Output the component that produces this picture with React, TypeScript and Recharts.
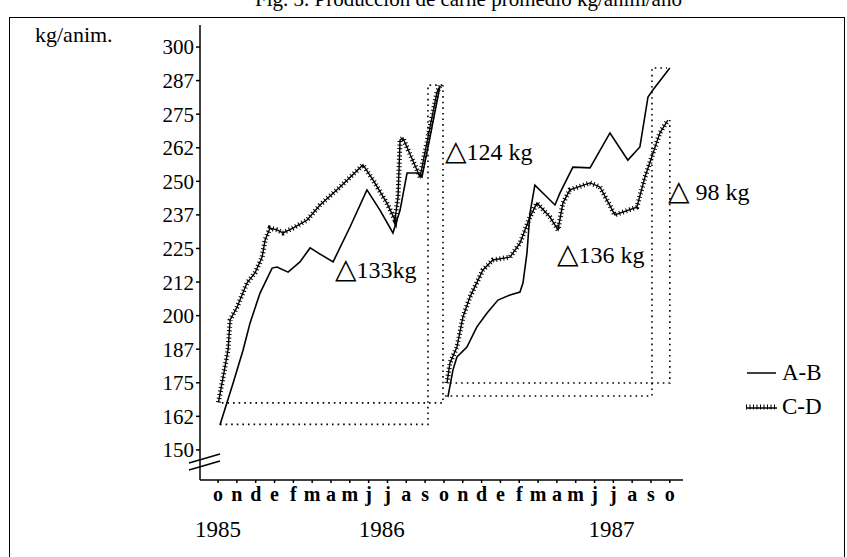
import { Customized, Legend, Line, LineChart, ReferenceDot, XAxis, YAxis } from 'recharts';

const monthLabels = ['o', 'n', 'd', 'e', 'f', 'm', 'a', 'm', 'j', 'j', 'a', 's', 'o', 'n', 'd', 'e', 'f', 'm', 'a', 'm', 'j', 'j', 'a', 's', 'o'];
const monthTicks = monthLabels.map((_, i) => i);
const yearLabels = ['1985', '1986', '1987'];
const yearTicks = [0, 8.7, 20.9];
const kgTicks = [150, 162.5, 175, 187.5, 200, 212.5, 225, 237.5, 250, 262.5, 275, 287.5, 300];

// A-B, oct 1985 - oct 1986
const abMonths85 = [0.1, 0.8, 1.33, 1.7, 2.23, 2.87, 3.13, 3.72, 4.35, 4.89, 5.42, 6.11, 7.01, 7.91, 8.6, 9.29, 9.67, 10.04, 10.57, 10.83, 11.26, 11.79];
const abKg85 = [159.3, 174.9, 187.2, 197.3, 208.4, 217.7, 218.1, 216.2, 220, 225.2, 222.9, 220, 233, 246.8, 239.3, 230.8, 239.3, 253.1, 253.1, 251.6, 266.5, 285.5];

// C-D, oct 1985 - oct 1986
const cdMonths85 = [0.02, 0.21, 0.53, 0.64, 1.01, 1.54, 1.96, 2.34, 2.5, 2.76, 3.13, 3.45, 3.98, 4.73, 5.42, 6.48, 7.7, 8.23, 8.97, 9.4, 9.56, 9.67, 9.82, 10.73, 11.63, 11.79];
const cdKg85 = [167.7, 174.9, 187.2, 198.4, 203.2, 212.2, 215.9, 221.8, 228.2, 232.6, 231.9, 230.8, 232.6, 235.6, 241.2, 247.9, 256.1, 250.5, 241.9, 235.6, 244.2, 265.4, 266.1, 251.6, 283.2, 285.5];

// A-B, oct 1986 - oct 1987
const abMonths86 = [12.21, 12.48, 12.69, 13.22, 13.75, 14.29, 14.87, 15.51, 16.04, 16.2, 16.41, 16.57, 16.83, 17.9, 18.16, 18.85, 19.76, 20.82, 21.77, 22.41, 22.84, 23.1, 24.0];
const abKg86 = [169.7, 179.8, 184.6, 188.3, 195.8, 201, 205.8, 207.7, 208.8, 212.2, 223.3, 238.2, 248.6, 241.2, 245.6, 255.3, 255, 268, 257.9, 262.8, 281.4, 284, 292.2];

// C-D, oct 1986 - oct 1987
const cdMonths86 = [12.16, 12.32, 12.69, 13.01, 13.38, 14.07, 14.6, 15.51, 16.04, 16.57, 16.94, 17.63, 18.06, 18.32, 18.69, 19.76, 20.29, 21.08, 22.25, 22.68, 23.47, 23.9];
const cdKg86 = [174.9, 182.4, 188.3, 199.5, 206.9, 217, 220.7, 221.8, 227, 236.7, 241.9, 236.7, 231.9, 241.9, 246.8, 249.4, 247.9, 237.5, 240.4, 251.6, 268, 272.8];

// dotted gain boxes (start weight -> end weight)
const boxAbMonths85 = [0.1, 11.15, 11.15, 11.95];
const boxAbKg85 = [159.5, 159.5, 285.8, 285.8];
const boxCdMonths85 = [0.2, 11.95, 11.95];
const boxCdKg85 = [167.5, 167.5, 285.8];
const boxAbMonths86 = [12.06, 23.05, 23.05, 23.85];
const boxAbKg86 = [170.1, 170.1, 292.2, 292.2];
const boxCdMonths86 = [12.32, 24.0, 24.0];
const boxCdKg86 = [174.9, 174.9, 272.8];

const gainLabels = ['133kg', '124 kg', '136 kg', ' 98 kg'];
const gainMonths = [6.21, 12.06, 18.0, 23.9];
const gainKg = [217.0, 260.9, 222.6, 246.0];

const toPoints = (months: number[], kg: number[]) => months.map((m, i) => ({ m, kg: kg[i] }));

const FONT = '"Liberation Serif", "Times New Roman", serif';

function deltaLabel(text: string) {
  return (props: any) => {
    const vb = props.viewBox || {};
    const x = (vb.x ?? 0) + (vb.width ?? 0) / 2;
    const y = (vb.y ?? 0) + (vb.height ?? 0) / 2;
    return (
      <text x={x} y={y} dy="0.35em" fontFamily={FONT} fontSize={24} fill="#000">
        <tspan fontFamily='"DejaVu Sans"' fontSize={28}>△</tspan>
        {text}
      </text>
    );
  };
}

function LegendBox() {
  return (
    <div style={{ fontFamily: FONT, fontSize: 23, color: '#000', lineHeight: '34px' }}>
      <div style={{ display: 'flex', alignItems: 'center' }}>
        <svg width={38} height={10}>
          <line x1={3} y1={5} x2={32} y2={5} stroke="#000" strokeWidth={1.5} />
        </svg>
        <span>A-B</span>
      </div>
      <div style={{ display: 'flex', alignItems: 'center' }}>
        <svg width={38} height={10}>
          <line x1={2} y1={6} x2={33} y2={6} stroke="#000" strokeWidth={1.5} />
          <line x1={2} y1={5} x2={33} y2={5} stroke="#000" strokeWidth={5} strokeDasharray="1 2.5" />
        </svg>
        <span>C-D</span>
      </div>
    </div>
  );
}

function AxisBreak() {
  return (
    <g>
      <rect x={197} y={458} width={6} height={9} fill="#fff" />
      <line x1={189} y1={463} x2={220} y2={454} stroke="#000" strokeWidth={1.5} />
      <line x1={189} y1={470} x2={220} y2={461} stroke="#000" strokeWidth={1.5} />
    </g>
  );
}

export default function App() {
  const cdSeries = [toPoints(cdMonths85, cdKg85), toPoints(cdMonths86, cdKg86)];
  const abSeries = [toPoints(abMonths85, abKg85), toPoints(abMonths86, abKg86)];
  const boxes = [
    toPoints(boxAbMonths85, boxAbKg85),
    toPoints(boxCdMonths85, boxCdKg85),
    toPoints(boxAbMonths86, boxAbKg86),
    toPoints(boxCdMonths86, boxCdKg86),
  ];

  return (
    <div style={{ position: 'absolute', left: 0, top: 0, width: 847, height: 557, overflow: 'hidden', background: '#fff', fontFamily: FONT }}>
      <div style={{ position: 'absolute', left: 9, top: 17, width: 836, height: 600, border: '1.5px solid #000', boxSizing: 'border-box' }} />
      <div style={{ position: 'absolute', left: 255, top: -13, fontSize: 21, whiteSpace: 'nowrap', color: '#000' }}>
        Fig. 3. Producción de carne promedio kg/anim/año
      </div>
      <LineChart width={847} height={557} margin={{ top: 25, right: 164, bottom: 0, left: 0 }}>
        <XAxis
          type="number"
          dataKey="m"
          domain={[-0.96, 24.7]}
          ticks={monthTicks}
          interval={0}
          allowDataOverflow
          height={30}
          tickSize={3}
          tickMargin={4}
          tickFormatter={(v: number) => monthLabels[v] ?? ''}
          stroke="#000"
          strokeWidth={1.5}
          tick={{ fill: '#000', fontSize: 20, fontWeight: 'bold', fontFamily: FONT }}
        />
        <XAxis
          xAxisId="year"
          type="number"
          dataKey="m"
          domain={[-0.96, 24.7]}
          ticks={yearTicks}
          interval={0}
          allowDataOverflow
          height={47}
          axisLine={false}
          tickLine={false}
          tickMargin={5}
          tickFormatter={(v: number) => yearLabels[yearTicks.indexOf(v)] ?? ''}
          tick={{ fill: '#000', fontSize: 23, fontFamily: FONT }}
        />
        <YAxis
          type="number"
          domain={[138.8, 308.2]}
          ticks={kgTicks}
          interval={0}
          allowDataOverflow
          width={200}
          tickSize={4}
          tickMargin={2}
          tickFormatter={(v: number) => String(Math.floor(v))}
          stroke="#000"
          strokeWidth={1.5}
          tick={{ fill: '#000', fontSize: 21, fontFamily: FONT }}
          label={{ value: 'kg/anim.', position: 'insideTopLeft', offset: 0, dx: 35, dy: 1, fill: '#000', fontSize: 22, fontFamily: FONT }}
        />
        {boxes.map((b, i) => (
          <Line
            key={`box${i}`}
            data={b}
            dataKey="kg"
            type="linear"
            stroke="#000"
            strokeWidth={1.6}
            strokeDasharray="1.6 4"
            dot={false}
            activeDot={false}
            isAnimationActive={false}
            legendType="none"
          />
        ))}
        {abSeries.map((s, i) => (
          <Line
            key={`ab${i}`}
            data={s}
            dataKey="kg"
            name="A-B"
            type="linear"
            stroke="#000"
            strokeWidth={1.6}
            dot={false}
            isAnimationActive={false}
          />
        ))}
        {cdSeries.map((s, i) => (
          <Line
            key={`cd${i}`}
            data={s}
            dataKey="kg"
            name="C-D"
            type="linear"
            stroke="#000"
            strokeWidth={1.4}
            dot={false}
            isAnimationActive={false}
          />
        ))}
        {cdSeries.map((s, i) => (
          <Line
            key={`cdcomb${i}`}
            data={s}
            dataKey="kg"
            type="linear"
            stroke="#000"
            strokeWidth={5}
            strokeDasharray="1 2.6"
            dot={false}
            activeDot={false}
            isAnimationActive={false}
            legendType="none"
          />
        ))}
        {gainLabels.map((t, i) => (
          <ReferenceDot
            key={`gain${i}`}
            x={gainMonths[i]}
            y={gainKg[i]}
            r={1}
            fill="none"
            stroke="none"
            ifOverflow="visible"
            label={deltaLabel(t)}
          />
        ))}
        <Customized component={AxisBreak} />
        <Legend
          layout="horizontal"
          align="center"
          verticalAlign="middle"
          content={() => <LegendBox />}
          wrapperStyle={{ left: 744, top: 356, width: 100 }}
        />
      </LineChart>
    </div>
  );
}
